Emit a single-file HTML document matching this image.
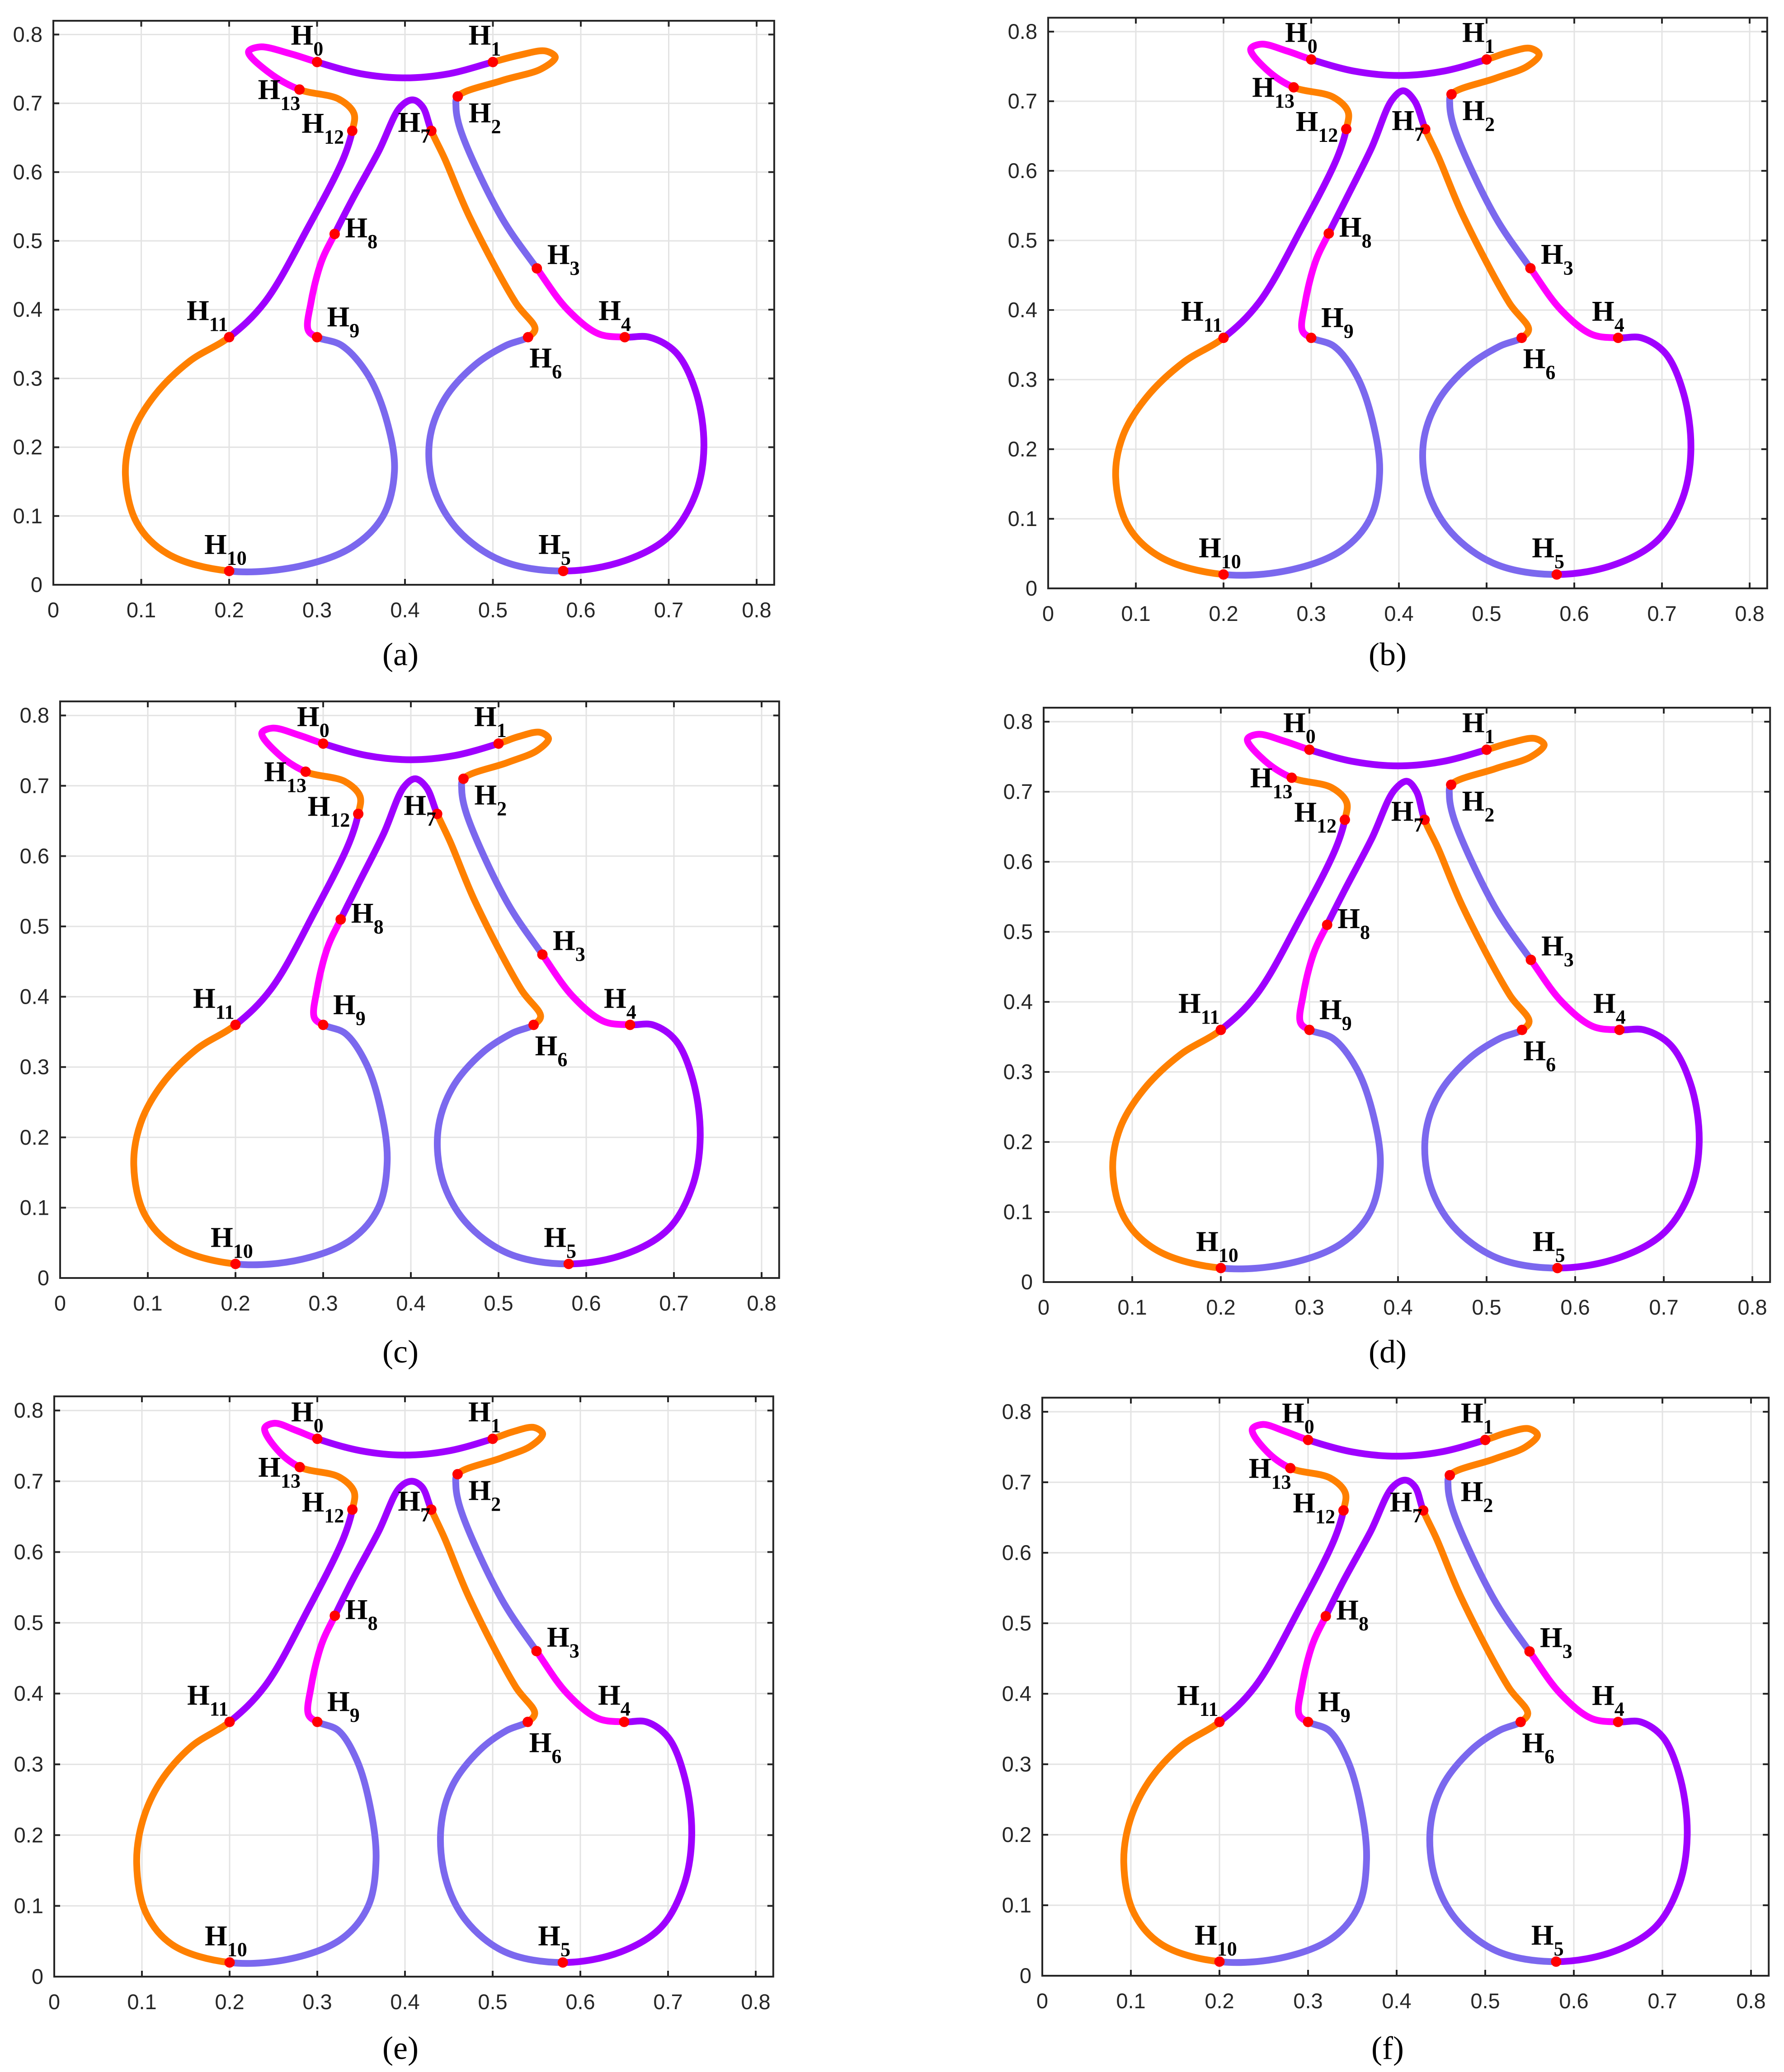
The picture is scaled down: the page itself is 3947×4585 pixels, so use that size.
<!DOCTYPE html>
<html><head><meta charset="utf-8">
<style>
html,body{margin:0;padding:0;background:#fff;}
svg{display:block;}
.tick{font-family:"Liberation Sans",Arial,sans-serif;font-size:47px;fill:#262626;}
.hl{font-family:"Liberation Serif","Times New Roman",serif;font-weight:bold;fill:#000;}
.cap{font-family:"Liberation Serif","Times New Roman",serif;font-size:72px;fill:#000;}
</style></head>
<body>
<svg id="fig" xmlns="http://www.w3.org/2000/svg" width="3947" height="4585" viewBox="0 0 3947 4585"></svg>
<script>
// ---- data ----
const panelNames = ["a","b","c","d","e","f"];
const tickValues = [0,0.1,0.2,0.3,0.4,0.5,0.6,0.7,0.8];
const tickLabels = ["0","0.1","0.2","0.3","0.4","0.5","0.6","0.7","0.8"];
const pointX = [0.30,0.50,0.46,0.55,0.65,0.58,0.54,0.43,0.32,0.30,0.20,0.20,0.34,0.28];
const pointY = [0.76,0.76,0.71,0.46,0.36,0.02,0.36,0.66,0.51,0.36,0.02,0.36,0.66,0.72];
// per-panel shape extremes (a..f)
const leftLoopMinX   = [0.082,0.077,0.084,0.078,0.094,0.092];
const leftBlueMaxX   = [0.388,0.378,0.373,0.380,0.367,0.366];
const rightBlueMinX  = [0.427,0.427,0.430,0.430,0.440,0.437];
const rightLoopMaxX  = [0.740,0.733,0.730,0.740,0.727,0.728];
const peakX          = [0.409,0.405,0.405,0.410,0.408,0.410];
const peakY          = [0.705,0.715,0.710,0.715,0.700,0.703];
const topLeftX       = [0.222,0.231,0.230,0.230,0.240,0.237];
const topRightX      = [0.571,0.560,0.557,0.565,0.557,0.559];
// segment colours
const segColors = ["#9f00ff","#ff8000","#7b68ee","#ff00ff","#9f00ff","#7b68ee","#ff8000","#9f00ff","#ff00ff","#7b68ee","#ff8000","#9f00ff","#ff8000","#ff00ff"];
// intermediate waypoints per segment (between H_i and H_{i+1}); [x,y,key,weight]
const segWay = [
 [[0.35,0.743],[0.40,0.737],[0.45,0.743]],
 [[0.53,0.770,"tr",0.5],[0.56,0.776,"tr",0.9],[0.571,0.767,"tr",1],[0.555,0.750,"tr",0.8],[0.51,0.733]],
 [[0.458,0.695],[0.463,0.662],[0.509,0.536]],
 [[0.585,0.40],[0.62,0.365]],
 [[0.678,0.360,"rm",0.2],[0.708,0.338,"rm",0.6],[0.731,0.28,"rm",0.9],[0.74,0.2,"rm",1],[0.73,0.13,"rm",0.9],[0.70,0.07,"rm",0.6],[0.65,0.035,"rm",0.3]],
 [[0.51,0.035,"rb",0.3],[0.46,0.08,"rb",0.7],[0.433,0.14,"rb",1],[0.428,0.21,"rb",1],[0.445,0.27,"rb",0.7],[0.48,0.32,"rb",0.4],[0.515,0.348,"rb",0.1]],
 [[0.548,0.372],[0.526,0.41],[0.473,0.536],[0.445,0.62]],
 [[0.42,0.695,"px",0.6],[0.409,0.705,"px",1],[0.395,0.695,"px",0.7],[0.37,0.63,"px",0.3],[0.34,0.56]],
 [[0.305,0.47],[0.293,0.41],[0.29,0.37]],
 [[0.328,0.348,"lb",0.2],[0.358,0.305,"lb",0.6],[0.38,0.235,"lb",0.9],[0.388,0.165,"lb",1],[0.375,0.10,"lb",0.8],[0.34,0.055,"lb",0.5],[0.28,0.027,"lb",0.2]],
 [[0.13,0.045,"lm",0.4],[0.095,0.09,"lm",0.8],[0.082,0.16,"lm",1],[0.09,0.22,"lm",0.9],[0.115,0.275,"lm",0.5],[0.155,0.325,"lm",0.1]],
 [[0.24,0.41],[0.29,0.52],[0.33,0.62]],
 [[0.342,0.685],[0.325,0.706]],
 [[0.245,0.745,"tl",0.5],[0.222,0.775,"tl",1],[0.235,0.782,"tl",0.9],[0.27,0.772,"tl",0.3]]
];
// H-label offsets (px from point; baseline of H)
const labDX = [-58,-54,24,23,-58,-55,3,-74,23,22,-55,-94,-112,-92];
const labDY = [-39,-39,57,-10,-38,-38,67,2,7,-24,-38,-38,4,21];
// panel geometry: origin & scale (px per unit)
const panX0 = [118,2319,133,2309,120,2306];
const panY0 = [1294,1302,2828,2837,4374,4372];
const panXS = [1945,1940,1940,1960,1940,1960];
const panYS = [1522,1540,1556,1550,1566,1560];
const capX  = [886,3070,886,3070,886,3070];
const capY  = [1472,1472,3015,3015,4556,4556];

const NS="http://www.w3.org/2000/svg";
const svg=document.getElementById("fig");
function mk(tag,attrs,parent){const e=document.createElementNS(NS,tag);for(const k in attrs)e.setAttribute(k,attrs[k]);(parent||svg).appendChild(e);return e;}

panelNames.forEach((nm,p)=>{
  const g=mk("g",{});
  
  
  const X=v=>panX0[p]+v*panXS[p], Y=v=>panY0[p]-v*panYS[p];
  const base={lm:leftLoopMinX[0],lb:leftBlueMaxX[0],rb:rightBlueMinX[0],rm:rightLoopMaxX[0],px:peakX[0],tl:topLeftX[0],tr:topRightX[0]};
  const cur={lm:leftLoopMinX[p],lb:leftBlueMaxX[p],rb:rightBlueMinX[p],rm:rightLoopMaxX[p],px:peakX[p],tl:topLeftX[p],tr:topRightX[p]};
  const grid=mk("g",{stroke:"#e3e3e3","stroke-width":3},g);
  
  
  tickValues.forEach(v=>{
    mk("line",{x1:X(v),x2:X(v),y1:Y(0),y2:Y(0.82)},grid);
    mk("line",{x1:X(0),x2:X(0.82),y1:Y(v),y2:Y(v)},grid);
  });
  const box=mk("rect",{x:X(0),y:Y(0.82),width:X(0.82)-X(0),height:Y(0)-Y(0.82),fill:"none",stroke:"#262626","stroke-width":4},g);
  
  
  const tk=mk("g",{stroke:"#262626","stroke-width":4},g);
  tickValues.forEach((v,i)=>{
    mk("line",{x1:X(v),x2:X(v),y1:Y(0),y2:Y(0)-13},tk);
    mk("line",{x1:X(v),x2:X(v),y1:Y(0.82),y2:Y(0.82)+13},tk);
    mk("line",{x1:X(0),x2:X(0)+13,y1:Y(v),y2:Y(v)},tk);
    mk("line",{x1:X(0.82),x2:X(0.82)-13,y1:Y(v),y2:Y(v)},tk);
    const tx=mk("text",{x:X(v),y:Y(0)+72,"text-anchor":"middle",class:"tick"},g);
    tx.textContent=tickLabels[i];
    
    
    const ty=mk("text",{x:X(0)-24,y:Y(v)+16,"text-anchor":"end",class:"tick"},g);
    ty.textContent=tickLabels[i];
    
    
  });
  const pts=[], segStart=[];
  for(let s=0;s<14;s++){
    segStart.push(pts.length);
    pts.push([X(pointX[s]),Y(pointY[s])]);
    segWay[s].forEach(w=>{
      let x=w[0], y=w[1];
      if(w[2]){x+= (w[3])*(cur[w[2]]-base[w[2]]);}
      if(w[2]==="px"){y+= w[3]*(peakY[p]-peakY[0]);}
      pts.push([X(x),Y(y)]);
    });
  }
  const N=pts.length;
  const P=i=>pts[(i+N)%N];
  const dist=(a,b)=>Math.max(1e-3,Math.hypot(a[0]-b[0],a[1]-b[1]));
  for(let s=0;s<14;s++){
    const a=segStart[s], b=(s<13)?segStart[s+1]:N;
    let d="M"+P(a)[0].toFixed(1)+","+P(a)[1].toFixed(1);
    for(let i=a;i<b;i++){
      const p0=P(i-1),p1=P(i),p2=P(i+1),p3=P(i+2);
      const d1=Math.sqrt(dist(p0,p1)),d2=Math.sqrt(dist(p1,p2)),d3=Math.sqrt(dist(p2,p3));
      const c1=[0,1].map(k=>(d1*d1*p2[k]-d2*d2*p0[k]+(2*d1*d1+3*d1*d2+d2*d2)*p1[k])/(3*d1*(d1+d2)));
      const c2=[0,1].map(k=>(d3*d3*p1[k]-d2*d2*p3[k]+(2*d3*d3+3*d3*d2+d2*d2)*p2[k])/(3*d3*(d3+d2)));
      d+=" C"+c1[0].toFixed(1)+","+c1[1].toFixed(1)+" "+c2[0].toFixed(1)+","+c2[1].toFixed(1)+" "+p2[0].toFixed(1)+","+p2[1].toFixed(1);
    }
    const path=mk("path",{d:d,fill:"none",stroke:segColors[s],"stroke-width":15,"stroke-linecap":"round"},g);
    
    
  }
  for(let i=0;i<14;i++){
    const cx=X(pointX[i]), cy=Y(pointY[i]);
    const c=mk("circle",{cx:cx,cy:cy,r:11.5,fill:"#ff0000"},g);
    
    
    const t=mk("text",{x:cx+labDX[i],y:cy+labDY[i],class:"hl","font-size":64},g);
    
    
    t.appendChild(document.createTextNode("H"));
    const sub=document.createElementNS(NS,"tspan");
    sub.setAttribute("font-size","44");
    sub.setAttribute("dy","24");
    sub.textContent=String(i);
    t.appendChild(sub);
  }
  const cap=mk("text",{x:capX[p],y:capY[p],"text-anchor":"middle",class:"cap"},g);
  cap.textContent="("+nm+")";
  
  
});
</script>
</body></html>
